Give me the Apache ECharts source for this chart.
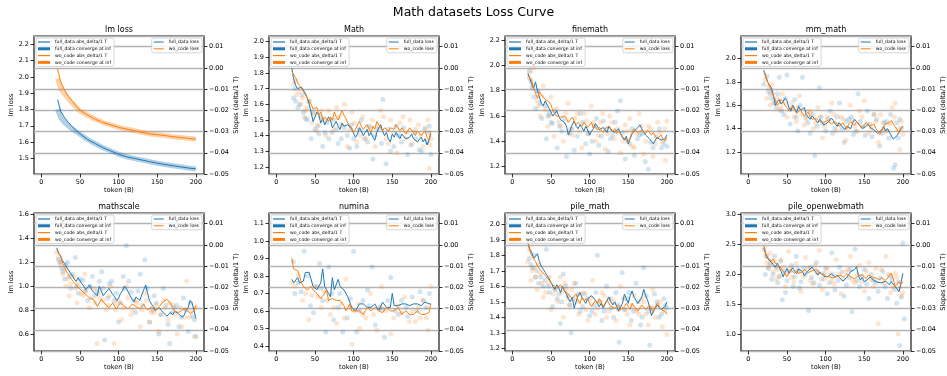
<!DOCTYPE html>
<html>
<head>
<meta charset="utf-8">
<title>Math datasets Loss Curve</title>
<script src="https://cdn.jsdelivr.net/npm/echarts@6.0.0/dist/echarts.min.js"></script>
<style>
  html, body { margin: 0; padding: 0; background: #fff; }
  #chart { width: 947px; height: 376px; }
</style>
</head>
<body>
<div id="chart"></div>
<script>
// token positions (B) of the noisy loss curves
const tokens = [20, 22.5, 25, 27.5, 30, 32.5, 35, 37.5, 40, 42.5, 45, 47.5, 50, 52.5, 55, 57.5, 60, 62.5, 65, 67.5,
  70, 72.5, 75, 77.5, 80, 82.5, 85, 87.5, 90, 92.5, 95, 97.5, 100, 102.5, 105, 107.5, 110, 112.5, 115, 117.5,
  120, 122.5, 125, 127.5, 130, 132.5, 135, 137.5, 140, 142.5, 145, 147.5, 150, 152.5, 155, 157.5, 160, 162.5, 165, 167.5,
  170, 172.5, 175, 177.5, 180, 182.5, 185, 187.5, 190, 192.5, 195, 197.5, 200];
const xTicks = [0, 50, 100, 150, 200];

// lm loss (smooth curves + dense point band)
const lmTokens = [21, 25, 30, 35, 40, 45, 50, 60, 70, 80, 90, 100, 110, 120, 130, 140, 150, 160, 170, 180, 190, 200];
const lmFullLoss = [1.86, 1.79, 1.75, 1.72, 1.695, 1.67, 1.65, 1.615, 1.59, 1.565, 1.545, 1.525, 1.51, 1.50, 1.49, 1.48, 1.47, 1.462, 1.455, 1.448, 1.441, 1.435];
const lmFullBand = [1.80, 1.75, 1.72, 1.70, 1.68, 1.665, 1.648, 1.615, 1.59, 1.565, 1.545, 1.525, 1.51, 1.50, 1.49, 1.48, 1.47, 1.462, 1.455, 1.448, 1.441, 1.435];
const lmWoLoss = [2.05, 1.97, 1.92, 1.88, 1.85, 1.82, 1.795, 1.765, 1.74, 1.72, 1.705, 1.69, 1.68, 1.67, 1.66, 1.65, 1.645, 1.64, 1.633, 1.628, 1.623, 1.618];
const lmWoBand = [1.99, 1.93, 1.895, 1.865, 1.84, 1.815, 1.79, 1.765, 1.74, 1.72, 1.705, 1.69, 1.68, 1.67, 1.66, 1.65, 1.645, 1.64, 1.633, 1.628, 1.623, 1.618];
const lmTicks = [1.5, 1.6, 1.7, 1.8, 1.9, 2.0, 2.1, 2.2];

// Math
const mathFull = [1.83, 1.76, 1.72, 1.70, 1.70, 1.71, 1.69, 1.67, 1.64, 1.60, 1.55, 1.49, 1.50, 1.55, 1.53, 1.48, 1.51, 1.47, 1.49, 1.52,
  1.50, 1.45, 1.47, 1.49, 1.46, 1.44, 1.48, 1.46, 1.45, 1.47, 1.46, 1.44, 1.43, 1.39, 1.41, 1.45, 1.43, 1.40, 1.42, 1.44,
  1.40, 1.42, 1.39, 1.37, 1.42, 1.45, 1.47, 1.43, 1.40, 1.42, 1.38, 1.36, 1.41, 1.39, 1.42, 1.40, 1.38, 1.41, 1.40, 1.38,
  1.37, 1.39, 1.41, 1.38, 1.39, 1.36, 1.37, 1.39, 1.36, 1.38, 1.34, 1.37, 1.41];
const mathWo = [1.81, 1.80, 1.77, 1.74, 1.72, 1.71, 1.68, 1.66, 1.64, 1.62, 1.60, 1.57, 1.56, 1.58, 1.53, 1.55, 1.50, 1.52, 1.51, 1.49,
  1.52, 1.50, 1.55, 1.52, 1.50, 1.53, 1.56, 1.53, 1.51, 1.48, 1.49, 1.45, 1.42, 1.44, 1.47, 1.49, 1.46, 1.44, 1.45, 1.47,
  1.44, 1.42, 1.46, 1.44, 1.49, 1.47, 1.46, 1.43, 1.45, 1.46, 1.43, 1.45, 1.46, 1.44, 1.47, 1.45, 1.43, 1.45, 1.44, 1.41,
  1.42, 1.45, 1.44, 1.42, 1.40, 1.43, 1.42, 1.40, 1.41, 1.43, 1.39, 1.37, 1.43];
const mathFullPts = [[22, 1.64], [25, 1.62], [30, 1.60], [35, 1.55], [38, 1.51], [42, 1.62], [45, 1.38], [50, 1.44], [55, 1.41], [60, 1.33],
  [65, 1.48], [72, 1.42], [80, 1.35], [88, 1.45], [95, 1.32], [100, 1.38], [110, 1.50], [118, 1.36], [125, 1.25], [132, 1.44],
  [138, 1.63], [142, 1.22], [148, 1.30], [155, 1.46], [162, 1.36], [170, 1.28], [178, 1.42], [185, 1.31], [192, 1.44], [198, 1.46], [200, 1.28],
  [24, 1.70], [28, 1.58], [33, 1.66], [40, 1.50], [47, 1.55], [53, 1.46], [58, 1.52], [63, 1.42], [68, 1.38], [75, 1.50],
  [78, 1.44], [84, 1.38], [92, 1.40], [97, 1.47], [104, 1.33], [107, 1.44], [114, 1.38], [121, 1.46], [128, 1.40], [136, 1.35],
  [145, 1.44], [152, 1.33], [158, 1.40], [165, 1.45], [174, 1.34], [181, 1.38], [188, 1.30], [195, 1.36], [197, 1.42]];
const mathWoPts = [[22, 1.73], [26, 1.66], [32, 1.60], [36, 1.52], [40, 1.58], [46, 1.48], [52, 1.43], [58, 1.56], [64, 1.40], [70, 1.50],
  [78, 1.58], [84, 1.47], [92, 1.33], [98, 1.55], [104, 1.36], [112, 1.52], [120, 1.45], [128, 1.33], [135, 1.56], [142, 1.38],
  [148, 1.50], [156, 1.29], [164, 1.52], [170, 1.42], [176, 1.35], [184, 1.47], [190, 1.33], [196, 1.50], [198, 1.19], [200, 1.38],
  [24, 1.75], [29, 1.68], [34, 1.64], [38, 1.56], [43, 1.62], [49, 1.54], [55, 1.47], [61, 1.50], [67, 1.56], [74, 1.44],
  [81, 1.52], [88, 1.60], [95, 1.44], [101, 1.48], [108, 1.40], [116, 1.38], [124, 1.50], [131, 1.46], [139, 1.52], [145, 1.35],
  [152, 1.42], [160, 1.48], [167, 1.38], [173, 1.50], [180, 1.44], [187, 1.40], [193, 1.45], [199, 1.34]];
const mathTicks = [1.2, 1.3, 1.4, 1.5, 1.6, 1.7, 1.8, 1.9, 2.0];

// finemath
const finemathFull = [1.94, 1.90, 1.85, 1.82, 1.87, 1.80, 1.75, 1.70, 1.68, 1.72, 1.73, 1.66, 1.65, 1.60, 1.62, 1.64, 1.60, 1.57, 1.58, 1.55,
  1.52, 1.45, 1.49, 1.53, 1.56, 1.52, 1.50, 1.53, 1.51, 1.48, 1.52, 1.49, 1.45, 1.48, 1.50, 1.54, 1.52, 1.49, 1.48, 1.51,
  1.49, 1.47, 1.52, 1.49, 1.50, 1.47, 1.48, 1.50, 1.46, 1.43, 1.41, 1.44, 1.38, 1.42, 1.46, 1.48, 1.49, 1.51, 1.53, 1.50,
  1.47, 1.45, 1.44, 1.42, 1.40, 1.38, 1.41, 1.43, 1.44, 1.41, 1.40, 1.42, 1.45];
const finemathWo = [1.92, 1.90, 1.88, 1.82, 1.78, 1.74, 1.79, 1.77, 1.76, 1.73, 1.72, 1.71, 1.69, 1.64, 1.62, 1.60, 1.61, 1.59, 1.58, 1.60,
  1.58, 1.55, 1.57, 1.59, 1.56, 1.53, 1.55, 1.54, 1.52, 1.55, 1.54, 1.51, 1.53, 1.55, 1.50, 1.52, 1.49, 1.51, 1.49, 1.47,
  1.50, 1.49, 1.52, 1.50, 1.48, 1.50, 1.46, 1.48, 1.46, 1.44, 1.45, 1.41, 1.39, 1.43, 1.47, 1.50, 1.49, 1.47, 1.46, 1.49,
  1.48, 1.46, 1.49, 1.47, 1.45, 1.47, 1.44, 1.42, 1.43, 1.45, 1.42, 1.40, 1.43];
const finemathFullPts = [[22, 1.96], [26, 1.82], [30, 1.66], [34, 1.79], [38, 1.58], [42, 1.68], [44, 1.42], [48, 1.62], [52, 1.54], [58, 1.35],
  [64, 1.48], [70, 1.28], [74, 1.46], [80, 1.33], [88, 1.62], [95, 1.38], [100, 1.30], [106, 1.52], [112, 1.37], [118, 1.56],
  [124, 1.32], [130, 1.45], [136, 1.64], [140, 1.72], [146, 1.26], [152, 1.38], [158, 1.29], [165, 1.45], [172, 1.24], [176, 1.18],
  [182, 1.35], [190, 1.50], [196, 1.38], [200, 1.36],
  [24, 1.88], [28, 1.75], [32, 1.80], [36, 1.70], [46, 1.60], [50, 1.55], [55, 1.64], [61, 1.52], [67, 1.58], [77, 1.50],
  [84, 1.44], [91, 1.55], [98, 1.46], [103, 1.40], [109, 1.58], [115, 1.44], [121, 1.50], [127, 1.42], [133, 1.55], [143, 1.47],
  [149, 1.40], [155, 1.50], [162, 1.42], [168, 1.46], [179, 1.39], [186, 1.44], [193, 1.35]];
const finemathWoPts = [[22, 1.90], [28, 1.98], [32, 1.72], [36, 1.60], [40, 1.84], [46, 1.52], [50, 1.75], [54, 1.44], [60, 1.55], [66, 1.40],
  [72, 1.70], [78, 1.45], [84, 1.62], [90, 1.35], [96, 1.56], [102, 1.68], [108, 1.40], [114, 1.55], [120, 1.34], [126, 1.60],
  [132, 1.42], [140, 1.31], [146, 1.53], [152, 1.58], [158, 1.35], [164, 1.62], [170, 1.30], [176, 1.52], [182, 1.28], [188, 1.55],
  [194, 1.40], [198, 1.25], [200, 1.56],
  [24, 1.95], [26, 1.84], [34, 1.68], [38, 1.76], [43, 1.65], [48, 1.60], [57, 1.66], [63, 1.52], [69, 1.62], [75, 1.50],
  [81, 1.58], [87, 1.48], [93, 1.62], [99, 1.46], [105, 1.55], [111, 1.45], [117, 1.62], [123, 1.46], [129, 1.55], [136, 1.50],
  [143, 1.40], [149, 1.48], [155, 1.36], [161, 1.46], [167, 1.52], [173, 1.40], [179, 1.50], [185, 1.38], [191, 1.47], [197, 1.50]];
const finemathTicks = [1.2, 1.4, 1.6, 1.8, 2.0, 2.2];

// mm_math
const mmFull = [1.90, 1.85, 1.80, 1.77, 1.75, 1.68, 1.60, 1.63, 1.65, 1.61, 1.62, 1.66, 1.64, 1.58, 1.55, 1.60, 1.57, 1.54, 1.59, 1.56,
  1.55, 1.58, 1.52, 1.50, 1.48, 1.51, 1.50, 1.47, 1.45, 1.48, 1.46, 1.43, 1.42, 1.45, 1.44, 1.49, 1.47, 1.44, 1.42, 1.45,
  1.44, 1.41, 1.39, 1.42, 1.43, 1.40, 1.45, 1.48, 1.47, 1.44, 1.42, 1.40, 1.39, 1.42, 1.44, 1.41, 1.42, 1.39, 1.38, 1.36,
  1.35, 1.39, 1.42, 1.38, 1.40, 1.37, 1.36, 1.31, 1.30, 1.34, 1.37, 1.40, 1.42];
const mmWo = [1.89, 1.84, 1.80, 1.76, 1.72, 1.68, 1.65, 1.60, 1.62, 1.65, 1.63, 1.60, 1.58, 1.56, 1.57, 1.59, 1.56, 1.53, 1.54, 1.56,
  1.53, 1.51, 1.52, 1.54, 1.50, 1.48, 1.47, 1.49, 1.49, 1.46, 1.47, 1.45, 1.45, 1.47, 1.46, 1.44, 1.43, 1.46, 1.45, 1.42,
  1.43, 1.45, 1.42, 1.40, 1.44, 1.46, 1.45, 1.43, 1.46, 1.44, 1.44, 1.41, 1.43, 1.45, 1.44, 1.42, 1.42, 1.44, 1.40, 1.38,
  1.35, 1.38, 1.41, 1.44, 1.43, 1.45, 1.47, 1.44, 1.43, 1.39, 1.36, 1.40, 1.42];
const mmFullPts = [[20, 1.78], [26, 1.72], [30, 1.66], [36, 1.58], [40, 1.84], [46, 1.52], [50, 1.86], [54, 1.44], [60, 1.65], [64, 1.38],
  [70, 1.84], [74, 1.50], [80, 1.36], [86, 1.17], [92, 1.75], [96, 1.45], [100, 1.38], [106, 1.55], [112, 1.40], [118, 1.62],
  [124, 1.28], [130, 1.48], [136, 1.35], [142, 1.70], [148, 1.42], [154, 1.55], [160, 1.33], [166, 1.48], [170, 1.25], [176, 1.45],
  [184, 1.52], [188, 1.06], [190, 1.09], [194, 1.32], [198, 1.40],
  [24, 1.85], [28, 1.70], [33, 1.62], [38, 1.70], [43, 1.55], [48, 1.66], [57, 1.58], [62, 1.50], [67, 1.60], [77, 1.45],
  [83, 1.52], [89, 1.42], [94, 1.50], [103, 1.48], [109, 1.36], [115, 1.50], [121, 1.40], [127, 1.46], [133, 1.50], [139, 1.38],
  [145, 1.46], [151, 1.34], [157, 1.44], [163, 1.52], [173, 1.36], [179, 1.46], [182, 1.32], [192, 1.45], [196, 1.48]];
const mmWoPts = [[22, 1.82], [24, 1.66], [30, 1.78], [34, 1.62], [40, 1.56], [44, 1.70], [50, 1.50], [56, 1.62], [62, 1.46], [66, 1.68],
  [72, 1.43], [78, 1.55], [84, 1.40], [90, 1.58], [96, 1.32], [102, 1.50], [108, 1.62], [114, 1.38], [120, 1.50], [126, 1.30],
  [132, 1.60], [138, 1.42], [144, 1.55], [150, 1.64], [156, 1.36], [162, 1.52], [168, 1.28], [174, 1.45], [180, 1.38], [186, 1.58],
  [190, 1.62], [196, 1.22], [200, 1.35],
  [26, 1.76], [28, 1.60], [32, 1.70], [37, 1.66], [42, 1.58], [47, 1.62], [53, 1.56], [59, 1.50], [64, 1.58], [69, 1.52],
  [75, 1.48], [81, 1.54], [87, 1.45], [93, 1.50], [99, 1.42], [105, 1.47], [111, 1.52], [117, 1.44], [123, 1.48], [129, 1.40],
  [135, 1.47], [141, 1.38], [147, 1.50], [153, 1.44], [159, 1.40], [165, 1.46], [171, 1.52], [177, 1.38], [183, 1.44], [189, 1.50],
  [194, 1.40], [198, 1.46]];
const mmTicks = [1.2, 1.4, 1.6, 1.8, 2.0];

// mathscale
const mathscaleFull = [1.32, 1.27, 1.25, 1.21, 1.19, 1.16, 1.15, 1.11, 1.09, 1.06, 1.04, 1.07, 1.06, 1.02, 1.00, 0.97, 0.98, 1.01, 0.97, 0.95,
  0.95, 0.92, 1.00, 0.96, 0.92, 0.94, 0.95, 0.98, 0.97, 0.93, 0.91, 0.88, 0.90, 0.94, 0.96, 1.00, 0.98, 0.95, 0.92, 0.89,
  0.87, 0.91, 0.90, 0.88, 0.93, 0.97, 1.01, 0.94, 0.88, 0.85, 0.83, 0.80, 0.79, 0.82, 0.80, 0.78, 0.77, 0.75, 0.75, 0.78,
  0.76, 0.79, 0.80, 0.77, 0.78, 0.74, 0.76, 0.80, 0.82, 0.88, 0.86, 0.80, 0.73];
const mathscaleWo = [1.30, 1.28, 1.25, 1.19, 1.16, 1.12, 1.10, 1.07, 1.05, 1.03, 1.02, 0.99, 0.98, 0.96, 0.95, 0.93, 0.93, 0.90, 0.91, 0.89,
  0.89, 0.83, 0.86, 0.89, 0.88, 0.85, 0.85, 0.82, 0.84, 0.86, 0.83, 0.81, 0.84, 0.86, 0.86, 0.83, 0.84, 0.81, 0.83, 0.85,
  0.85, 0.83, 0.84, 0.81, 0.83, 0.85, 0.82, 0.80, 0.80, 0.83, 0.82, 0.79, 0.81, 0.83, 0.84, 0.87, 0.86, 0.89, 0.90, 0.85,
  0.82, 0.79, 0.80, 0.78, 0.77, 0.80, 0.79, 0.81, 0.80, 0.77, 0.77, 0.79, 0.84];
const mathscaleFullPts = [[22, 1.22], [26, 1.15], [30, 1.06], [34, 1.20], [38, 0.98], [44, 1.24], [48, 0.94], [54, 1.05], [60, 0.88], [66, 1.08],
  [72, 0.96], [78, 1.12], [82, 0.55], [88, 1.02], [94, 0.88], [100, 0.70], [106, 1.08], [110, 1.34], [116, 0.95], [122, 0.78],
  [128, 1.10], [134, 1.22], [140, 0.70], [146, 0.92], [152, 0.60], [158, 0.98], [164, 0.68], [166, 0.52], [172, 0.82], [178, 0.66],
  [184, 0.90], [190, 0.62], [196, 0.75], [200, 0.58],
  [24, 1.20], [28, 1.12], [32, 1.18], [36, 1.08], [40, 1.10], [46, 1.00], [50, 1.06], [57, 0.96], [63, 1.00], [69, 0.92],
  [75, 1.04], [80, 0.98], [86, 0.90], [91, 1.04], [97, 0.94], [103, 0.86], [108, 0.98], [113, 1.04], [119, 0.88], [125, 0.96],
  [131, 0.84], [137, 0.98], [143, 0.80], [149, 0.86], [155, 0.76], [161, 0.84], [169, 0.78], [175, 0.84], [181, 0.74], [187, 0.80],
  [193, 0.86], [198, 0.72]];
const mathscaleWoPts = [[20, 1.28], [24, 1.18], [28, 1.10], [32, 1.00], [36, 0.92], [42, 1.08], [46, 0.86], [52, 0.94], [56, 1.10], [62, 0.82],
  [68, 0.98], [72, 0.52], [76, 0.90], [84, 0.80], [90, 1.00], [94, 0.52], [98, 0.86], [104, 0.72], [110, 1.00], [116, 0.76],
  [122, 0.88], [128, 0.66], [134, 0.94], [140, 0.70], [146, 0.78], [152, 0.62], [158, 0.88], [164, 0.72], [170, 0.84], [176, 0.60],
  [182, 0.66], [188, 1.04], [192, 0.74], [198, 0.58],
  [22, 1.24], [26, 1.20], [30, 1.14], [34, 1.06], [38, 1.02], [44, 0.98], [48, 1.02], [54, 0.92], [58, 0.96], [64, 0.90],
  [70, 0.86], [74, 0.94], [80, 0.88], [86, 0.84], [88, 0.92], [96, 0.80], [100, 0.88], [106, 0.82], [112, 0.90], [118, 0.80],
  [124, 0.86], [130, 0.80], [136, 0.88], [142, 0.78], [148, 0.84], [154, 0.76], [160, 0.82], [166, 0.86], [174, 0.76], [180, 0.82],
  [186, 0.74], [194, 0.80], [200, 0.82]];
const mathscaleTicks = [0.6, 0.8, 1.0, 1.2, 1.4, 1.6];

// numina
const numinaFull = [0.78, 0.76, 0.76, 0.79, 0.76, 0.76, 0.77, 0.82, 0.83, 0.82, 0.81, 0.74, 0.74, 0.72, 0.72, 0.76, 0.84, 0.74, 0.74, 0.70,
  0.68, 0.79, 0.72, 0.72, 0.78, 0.74, 0.74, 0.72, 0.72, 0.68, 0.68, 0.62, 0.62, 0.60, 0.60, 0.64, 0.64, 0.64, 0.64, 0.62,
  0.62, 0.62, 0.62, 0.64, 0.64, 0.60, 0.60, 0.65, 0.65, 0.62, 0.62, 0.62, 0.70, 0.63, 0.63, 0.63, 0.63, 0.64, 0.64, 0.64,
  0.64, 0.63, 0.63, 0.64, 0.64, 0.64, 0.64, 0.63, 0.63, 0.65, 0.65, 0.64, 0.64];
const numinaWo = [0.90, 0.84, 0.83, 0.83, 0.80, 0.76, 0.74, 0.74, 0.72, 0.73, 0.74, 0.72, 0.72, 0.70, 0.70, 0.67, 0.66, 0.70, 0.72, 0.66,
  0.66, 0.67, 0.68, 0.66, 0.66, 0.66, 0.66, 0.63, 0.60, 0.62, 0.64, 0.60, 0.60, 0.60, 0.60, 0.60, 0.60, 0.58, 0.58, 0.62,
  0.62, 0.60, 0.60, 0.62, 0.62, 0.60, 0.60, 0.59, 0.59, 0.62, 0.62, 0.60, 0.60, 0.60, 0.60, 0.62, 0.60, 0.58, 0.58, 0.60,
  0.60, 0.58, 0.58, 0.58, 0.58, 0.60, 0.60, 0.58, 0.58, 0.58, 0.59, 0.59, 0.64];
const numinaFullPts = [[22, 0.88], [24, 0.70], [32, 0.71], [36, 0.94], [44, 0.63], [48, 0.59], [52, 0.74], [56, 0.87], [60, 0.66], [64, 0.48],
  [68, 0.85], [74, 0.55], [82, 0.70], [86, 0.48], [92, 0.56], [100, 0.94], [104, 0.48], [112, 0.66], [118, 0.72], [124, 0.85],
  [128, 0.52], [134, 0.62], [140, 0.45], [148, 0.79], [154, 0.60], [162, 0.66], [170, 0.57], [176, 0.68], [186, 0.71], [194, 0.62], [198, 0.70],
  [28, 0.76], [40, 0.80], [58, 0.73], [72, 0.70], [80, 0.62], [96, 0.67], [108, 0.60], [120, 0.63], [138, 0.61], [144, 0.66],
  [158, 0.58], [168, 0.62], [182, 0.60], [190, 0.66]];
const numinaWoPts = [[20, 0.76], [28, 0.80], [34, 0.66], [42, 0.55], [46, 0.69], [54, 0.68], [62, 0.71], [70, 0.58], [78, 0.53], [84, 0.64],
  [90, 0.78], [96, 0.62], [98, 0.41], [102, 0.60], [108, 0.50], [116, 0.56], [122, 0.70], [130, 0.49], [136, 0.74], [142, 0.60],
  [148, 0.47], [158, 0.63], [166, 0.68], [172, 0.54], [180, 0.54], [186, 0.56], [190, 0.66], [196, 0.49], [200, 0.74],
  [24, 0.74], [38, 0.70], [50, 0.74], [58, 0.62], [66, 0.66], [74, 0.62], [88, 0.56], [106, 0.64], [112, 0.58], [126, 0.58],
  [134, 0.62], [152, 0.56], [162, 0.59], [176, 0.60], [184, 0.62], [194, 0.56]];
const numinaTicks = [0.4, 0.5, 0.6, 0.7, 0.8, 0.9, 1.0, 1.1];

// pile_math
const pileFull = [1.89, 1.84, 1.82, 1.78, 1.77, 1.81, 1.76, 1.73, 1.71, 1.69, 1.67, 1.65, 1.64, 1.60, 1.58, 1.61, 1.59, 1.56, 1.60, 1.57,
  1.55, 1.52, 1.50, 1.53, 1.46, 1.50, 1.54, 1.56, 1.53, 1.51, 1.49, 1.52, 1.51, 1.54, 1.53, 1.51, 1.50, 1.47, 1.49, 1.46,
  1.47, 1.51, 1.53, 1.50, 1.48, 1.50, 1.47, 1.44, 1.44, 1.49, 1.55, 1.52, 1.49, 1.54, 1.57, 1.53, 1.51, 1.49, 1.49, 1.53,
  1.58, 1.54, 1.51, 1.47, 1.41, 1.44, 1.45, 1.48, 1.47, 1.45, 1.44, 1.47, 1.50];
const pileWo = [1.88, 1.83, 1.80, 1.78, 1.76, 1.73, 1.72, 1.70, 1.69, 1.67, 1.66, 1.64, 1.63, 1.61, 1.62, 1.59, 1.58, 1.61, 1.60, 1.57,
  1.57, 1.55, 1.55, 1.52, 1.53, 1.55, 1.51, 1.49, 1.53, 1.51, 1.50, 1.52, 1.49, 1.47, 1.48, 1.51, 1.49, 1.52, 1.50, 1.47,
  1.49, 1.51, 1.50, 1.47, 1.48, 1.46, 1.46, 1.48, 1.45, 1.44, 1.47, 1.49, 1.47, 1.45, 1.49, 1.47, 1.46, 1.44, 1.45, 1.48,
  1.47, 1.45, 1.46, 1.48, 1.45, 1.43, 1.47, 1.49, 1.48, 1.45, 1.46, 1.44, 1.42];
const pileFullPts = [[22, 1.78], [26, 1.72], [30, 1.66], [34, 1.62], [40, 1.60], [44, 1.84], [48, 1.56], [52, 1.47], [58, 1.52], [62, 1.36],
  [66, 1.68], [72, 1.54], [76, 1.30], [82, 1.62], [88, 1.44], [94, 1.55], [100, 1.41], [106, 1.48], [110, 1.80], [116, 1.38],
  [122, 1.60], [128, 1.46], [134, 1.56], [138, 1.24], [142, 1.69], [148, 1.52], [154, 1.38], [160, 1.62], [166, 1.35], [170, 1.72],
  [176, 1.44], [178, 1.22], [184, 1.55], [190, 1.40], [196, 1.52], [200, 1.46],
  [24, 1.74], [28, 1.80], [32, 1.70], [37, 1.66], [42, 1.64], [47, 1.60], [55, 1.58], [60, 1.55], [64, 1.50], [69, 1.60],
  [74, 1.48], [79, 1.52], [85, 1.55], [91, 1.47], [97, 1.52], [103, 1.44], [108, 1.56], [113, 1.50], [119, 1.44], [125, 1.52],
  [131, 1.40], [137, 1.48], [145, 1.45], [151, 1.56], [157, 1.44], [163, 1.50], [168, 1.40], [173, 1.54], [181, 1.46], [187, 1.50],
  [193, 1.42], [198, 1.48]];
const pileWoPts = [[20, 1.76], [24, 1.64], [28, 1.72], [32, 1.58], [36, 1.68], [40, 1.53], [46, 1.62], [50, 1.45], [56, 1.58], [62, 1.66],
  [66, 1.40], [70, 1.58], [74, 1.48], [80, 1.62], [86, 1.42], [92, 1.56], [98, 1.38], [104, 1.64], [110, 1.46], [116, 1.56],
  [122, 1.40], [128, 1.52], [134, 1.38], [140, 1.60], [146, 1.45], [152, 1.35], [158, 1.54], [164, 1.42], [170, 1.50], [176, 1.35],
  [182, 1.58], [188, 1.48], [194, 1.34], [200, 1.29],
  [22, 1.84], [26, 1.70], [30, 1.66], [34, 1.74], [38, 1.62], [43, 1.56], [48, 1.66], [53, 1.55], [59, 1.50], [64, 1.56],
  [68, 1.62], [72, 1.52], [77, 1.58], [83, 1.50], [89, 1.55], [95, 1.45], [101, 1.52], [107, 1.42], [113, 1.50], [119, 1.54],
  [125, 1.44], [131, 1.50], [137, 1.45], [143, 1.52], [149, 1.42], [155, 1.48], [161, 1.44], [167, 1.52], [173, 1.42], [179, 1.46],
  [185, 1.40], [191, 1.50], [197, 1.44]];
const pileTicks = [1.2, 1.3, 1.4, 1.5, 1.6, 1.7, 1.8, 1.9, 2.0];

// pile_openwebmath
const owmFull = [2.44, 2.33, 2.26, 2.24, 2.20, 2.16, 2.12, 2.19, 2.18, 2.05, 1.96, 2.04, 2.10, 2.02, 2.07, 2.11, 2.05, 2.01, 2.09, 2.06,
  2.05, 1.98, 2.02, 2.06, 2.08, 2.12, 2.10, 2.03, 1.99, 2.04, 2.02, 1.97, 2.00, 1.96, 1.94, 2.01, 1.98, 1.95, 1.99, 1.95,
  1.93, 1.89, 1.91, 1.95, 2.00, 2.05, 2.02, 2.08, 2.13, 1.98, 1.91, 1.95, 1.88, 1.85, 1.92, 1.96, 1.94, 1.90, 1.91, 1.87,
  1.90, 1.86, 1.85, 1.89, 1.87, 1.83, 1.88, 1.84, 1.80, 1.76, 1.71, 1.86, 2.02];
const owmWo = [2.49, 2.36, 2.28, 2.25, 2.22, 2.26, 2.18, 2.15, 2.14, 2.10, 2.07, 2.01, 1.96, 2.03, 2.07, 2.04, 2.02, 2.06, 2.02, 2.00,
  2.04, 2.08, 2.07, 2.03, 2.02, 2.06, 2.05, 2.09, 2.07, 2.02, 1.99, 2.01, 1.97, 1.94, 1.96, 1.99, 1.94, 1.92, 1.97, 2.00,
  1.99, 1.95, 1.98, 2.01, 1.99, 1.96, 1.96, 1.93, 1.94, 1.98, 1.96, 1.99, 1.96, 1.93, 1.99, 1.97, 1.96, 1.93, 1.94, 1.97,
  1.91, 1.95, 1.94, 1.90, 1.92, 1.97, 2.02, 1.93, 1.80, 1.84, 1.88, 1.83, 1.88];
const owmFullPts = [[22, 2.00], [26, 2.10], [30, 1.92], [34, 2.30], [38, 1.86], [42, 2.22], [44, 1.58], [48, 1.70], [54, 2.05], [58, 1.80],
  [62, 2.30], [66, 1.78], [72, 2.10], [78, 1.40], [82, 1.95], [88, 2.20], [92, 1.82], [98, 2.02], [102, 1.68], [108, 2.36],
  [112, 1.74], [118, 2.12], [124, 1.64], [130, 1.95], [134, 1.38], [138, 2.42], [144, 1.80], [150, 2.08], [156, 1.60], [162, 1.90],
  [168, 1.72], [174, 2.05], [180, 1.60], [186, 1.92], [192, 1.52], [196, 0.82], [200, 2.52], [202, 1.26],
  [24, 2.30], [28, 2.18], [32, 2.00], [36, 2.12], [40, 1.96], [46, 2.05], [50, 1.90], [56, 2.15], [60, 1.96], [64, 2.08],
  [68, 1.88], [74, 2.00], [80, 2.12], [85, 1.86], [90, 2.05], [95, 1.92], [100, 2.10], [105, 1.86], [110, 2.00], [116, 1.90],
  [121, 2.04], [127, 1.82], [132, 2.08], [141, 1.90], [147, 1.98], [153, 1.84], [159, 2.00], [165, 1.86], [171, 1.94], [177, 1.80],
  [183, 1.98], [189, 1.75], [194, 1.88], [198, 1.62]];
const owmWoPts = [[20, 2.42], [24, 2.20], [28, 2.35], [32, 2.05], [36, 1.92], [42, 2.25], [48, 1.80], [52, 2.38], [56, 1.95], [62, 2.18],
  [68, 1.72], [74, 2.28], [80, 1.90], [86, 2.15], [92, 2.40], [96, 1.75], [102, 2.10], [108, 1.90], [114, 2.25], [120, 1.68],
  [126, 2.05], [132, 2.30], [138, 1.86], [144, 2.15], [150, 1.72], [156, 2.20], [162, 1.80], [168, 1.18], [172, 2.08], [178, 2.30],
  [184, 1.70], [190, 2.02], [194, 1.01], [198, 1.65],
  [22, 2.30], [26, 2.12], [30, 2.18], [34, 2.22], [38, 2.08], [40, 1.98], [45, 2.12], [50, 2.02], [54, 2.10], [59, 1.88],
  [65, 2.05], [71, 1.96], [77, 2.10], [83, 1.84], [89, 2.02], [99, 1.92], [105, 2.02], [111, 1.84], [117, 2.00], [123, 1.92],
  [129, 2.08], [135, 1.90], [141, 2.00], [147, 1.88], [153, 2.05], [159, 1.92], [165, 2.10], [175, 1.86], [181, 2.00], [187, 1.80],
  [192, 1.96], [196, 1.78], [200, 1.70]];
const owmTicks = [1.0, 1.5, 2.0, 2.5, 3.0];

const slopeNames = ['full_data abs_delta/1 T', 'full_data converge at inf', 'wo_code abs_delta/1 T', 'wo_code converge at inf'];

const blue = '#1f77b4';
const orange = '#ff7f0e';
const font = 'DejaVu Sans';
const thinIcon = 'path://M0,0H12V1.2H0Z';
const thickIcon = 'path://M0,0H12V3H0Z';

const panels = [
  { title: 'lm loss', range: [1.404, 2.251], ticks: lmTicks, x: lmTokens, full: lmFullLoss, wo: lmWoLoss, fullBand: lmFullBand, woBand: lmWoBand },
  { title: 'Math', range: [1.155, 2.036], ticks: mathTicks, x: tokens, full: mathFull, wo: mathWo, fullPts: mathFullPts, woPts: mathWoPts },
  { title: 'finemath', range: [1.142, 2.232], ticks: finemathTicks, x: tokens, full: finemathFull, wo: finemathWo, fullPts: finemathFullPts, woPts: finemathWoPts },
  { title: 'mm_math', range: [1.011, 2.194], ticks: mmTicks, x: tokens, full: mmFull, wo: mmWo, fullPts: mmFullPts, woPts: mmWoPts },
  { title: 'mathscale', range: [0.458, 1.611], ticks: mathscaleTicks, x: tokens, full: mathscaleFull, wo: mathscaleWo, fullPts: mathscaleFullPts, woPts: mathscaleWoPts },
  { title: 'numina', range: [0.371, 1.159], ticks: numinaTicks, x: tokens, full: numinaFull, wo: numinaWo, fullPts: numinaFullPts, woPts: numinaWoPts },
  { title: 'pile_math', range: [1.183, 2.073], ticks: pileTicks, x: tokens, full: pileFull, wo: pileWo, fullPts: pileFullPts, woPts: pileWoPts },
  { title: 'pile_openwebmath', range: [0.729, 3.02], ticks: owmTicks, x: tokens, full: owmFull, wo: owmWo, fullPts: owmFullPts, woPts: owmWoPts }
];

// layout of the 2x4 subplot grid
const W = 947;
const colLeft = [34, 269, 505, 741];
const rowTop = [36, 213];
const gridW = 170;
const gridH = 138;

function zip(xs, ys) {
  return ys.map((v, i) => [xs[i], v]);
}

function slopeLabel(v) {
  if (Math.abs(v) < 1e-9) return '0.00';
  return (v < 0 ? '\u2212' : '') + Math.abs(v).toFixed(2);
}

const tickStyle = { length: 3.5, lineStyle: { color: '#000', width: 0.8 } };
const labelStyle = { color: '#000', fontSize: 6.5, fontFamily: font, margin: 5 };
const nameStyle = { color: '#000', fontSize: 6.5, fontFamily: font };
const noLine = { show: false, onZero: false };
const legendBox = {
  orient: 'vertical', itemGap: 1.8, padding: [1.5, 3, 1.5, 2], selectedMode: false,
  backgroundColor: 'rgba(255,255,255,0.8)', borderColor: '#cccccc', borderWidth: 0.8, borderRadius: 2,
  itemStyle: { borderWidth: 0 },
  textStyle: { color: '#000', fontSize: 4.6, fontFamily: font }
};

const grid = [], xAxis = [], yAxis = [], series = [], legend = [];
const title = [{
  text: 'Math datasets Loss Curve', left: W / 2, top: 6, textAlign: 'center', padding: 0,
  textStyle: { fontSize: 12.5, fontWeight: 'normal', color: '#000', fontFamily: font }
}];

panels.forEach((p, i) => {
  const gl = colLeft[i % 4];
  const gt = rowTop[Math.floor(i / 4)];
  grid.push({ left: gl, top: gt, width: gridW, height: gridH, show: true, borderColor: '#000', borderWidth: 1.1, outerBoundsMode: 'none' });
  xAxis.push({
    type: 'value', gridIndex: i, min: -9.5, max: 210.5,
    name: 'token (B)', nameLocation: 'middle', nameGap: 13, nameTextStyle: nameStyle,
    axisLine: noLine, splitLine: { show: false },
    axisTick: Object.assign({ customValues: xTicks }, tickStyle),
    axisLabel: Object.assign({ customValues: xTicks, formatter: v => String(v) }, labelStyle)
  });
  yAxis.push({
    type: 'value', gridIndex: i, position: 'left', min: p.range[0], max: p.range[1],
    name: 'lm loss', nameLocation: 'middle', nameGap: 17, nameRotate: 90, nameTextStyle: nameStyle,
    axisLine: noLine, splitLine: { show: false },
    axisTick: Object.assign({ customValues: p.ticks }, tickStyle),
    axisLabel: Object.assign({ customValues: p.ticks, formatter: v => v.toFixed(1) }, labelStyle)
  });
  yAxis.push({
    type: 'value', gridIndex: i, position: 'right', min: -0.05, max: 0.015, interval: 0.01,
    name: 'Slopes (delta/1 T)', nameLocation: 'middle', nameGap: 25, nameRotate: 90, nameTextStyle: nameStyle,
    axisLine: noLine,
    splitLine: { show: true, lineStyle: { color: '#b3b3b3', width: 1.3 } },
    axisTick: tickStyle,
    axisLabel: Object.assign({ formatter: slopeLabel, showMaxLabel: false }, labelStyle)
  });
  title.push({
    text: p.title, left: gl + gridW / 2, top: gt - 10, textAlign: 'center', padding: 0,
    textStyle: { fontSize: 8, fontWeight: 'normal', color: '#000', fontFamily: font }
  });

  const yl = 2 * i;
  if (p.fullBand) {
    series.push({ type: 'line', xAxisIndex: i, yAxisIndex: yl, data: zip(p.x, p.fullBand), showSymbol: false, silent: true,
      color: blue, lineStyle: { width: 5, opacity: 0.35 } });
    series.push({ type: 'line', xAxisIndex: i, yAxisIndex: yl, data: zip(p.x, p.woBand), showSymbol: false, silent: true,
      color: orange, lineStyle: { width: 5, opacity: 0.35 } });
  } else {
    series.push({ type: 'scatter', xAxisIndex: i, yAxisIndex: yl, data: p.fullPts, symbolSize: 5, silent: true,
      itemStyle: { color: blue, opacity: 0.2 } });
    series.push({ type: 'scatter', xAxisIndex: i, yAxisIndex: yl, data: p.woPts, symbolSize: 5, silent: true,
      itemStyle: { color: orange, opacity: 0.2 } });
  }
  series.push({ type: 'line', name: 'full_data loss', xAxisIndex: i, yAxisIndex: yl, data: zip(p.x, p.full),
    showSymbol: false, color: blue, lineStyle: { width: 1 } });
  series.push({ type: 'line', name: 'wo_code loss', xAxisIndex: i, yAxisIndex: yl, data: zip(p.x, p.wo),
    showSymbol: false, color: orange, lineStyle: { width: 1 } });

  legend.push(Object.assign({}, legendBox, {
    left: gl + 2, top: gt + 2, itemWidth: 12, itemHeight: 3,
    data: slopeNames.map((n, k) => ({ name: n, icon: k % 2 ? thickIcon : thinIcon }))
  }));
  legend.push(Object.assign({}, legendBox, {
    right: W - (gl + gridW) + 2, top: gt + 2, itemWidth: 10, itemHeight: 3,
    data: ['full_data loss', 'wo_code loss'].map(n => ({ name: n, icon: thinIcon }))
  }));
});

// slope series only appear in the legends (no points in view)
slopeNames.forEach((n, k) => {
  series.push({ type: 'line', name: n, xAxisIndex: 0, yAxisIndex: 1, data: [], color: k < 2 ? blue : orange });
});

const chart = echarts.init(document.getElementById('chart'));
chart.setOption({
  animation: false,
  backgroundColor: '#fff',
  title, grid, xAxis, yAxis, series, legend
});
</script>
</body>
</html>
